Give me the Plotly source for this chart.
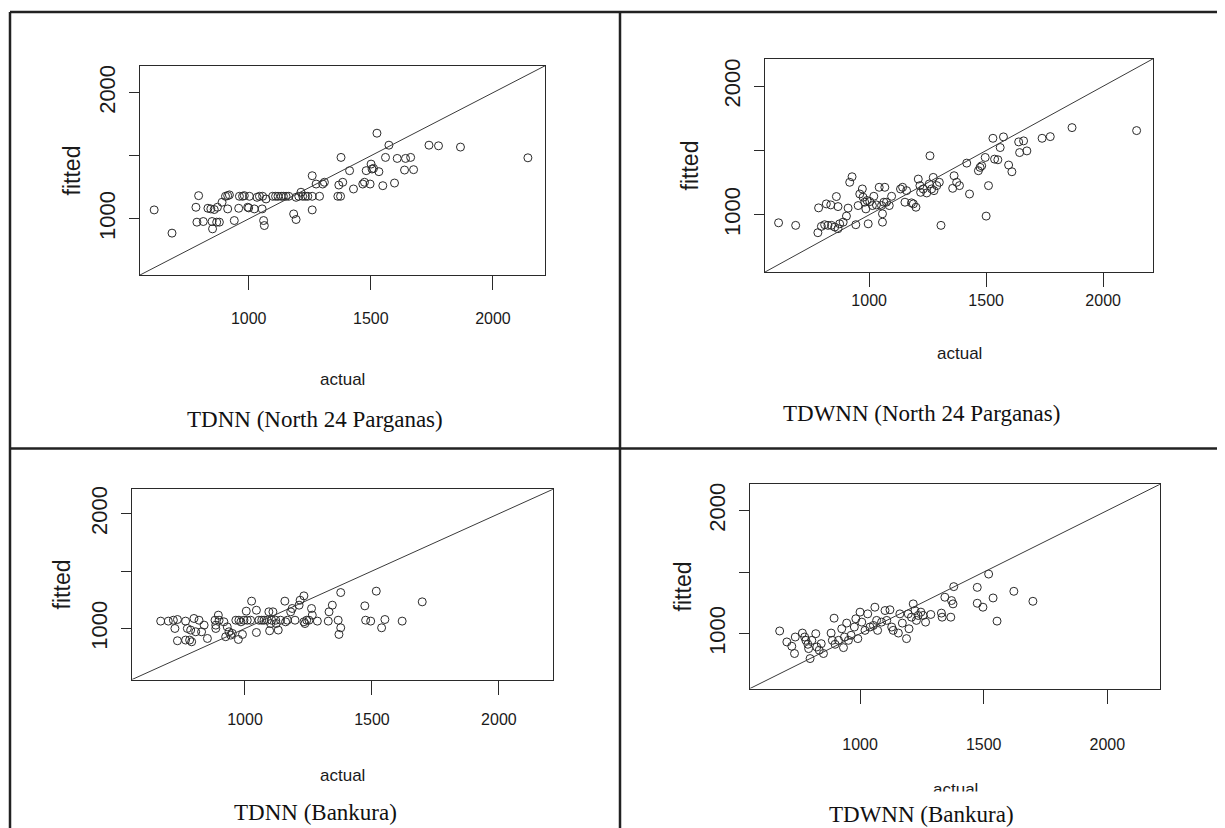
import plotly.graph_objects as go

W, H = 1225, 828
PAGE_OFFSET = 8  # browser body margin
FW, FH = W - PAGE_OFFSET, H - PAGE_OFFSET
AXIS_RANGE = [555, 2213]
TICK_VALUES = [1000, 1500, 2000]
X_TICK_TEXT = ["1000", "1500", "2000"]
Y_TICK_TEXT = ["1000", "", "2000"]
CAPTIONS = ["TDNN (North 24 Parganas)", "TDWNN (North 24 Parganas)",
            "TDNN (Bankura)", "TDWNN (Bankura)"]
X_TITLE = "actual"
Y_TITLE = "fitted"

# ---- TDNN, North 24 Parganas ----
tdnn_n24_actual = [613, 686, 795, 784, 788, 814, 833, 859, 850, 852, 869, 880, 891, 914, 921,
                   914, 941, 959, 975, 982, 996, 1000, 1003, 1023, 1034, 1044, 1057, 1061, 1064,
                   1055, 1071, 1098, 1133, 1142, 1153, 1164, 1184, 1194, 1194, 1214, 1221, 1242,
                   1260, 1260, 1260, 1276, 1290, 1303, 1310, 1365, 1369, 1376, 1385, 1378, 1413,
                   1429, 1467, 1474, 1481, 1497, 1501, 1505, 1511, 1533, 1525, 1549, 1560, 1574,
                   1597, 1608, 1638, 1642, 1663, 1675, 1738, 1777, 1867, 2143,
                   905, 962, 1110, 1120, 845, 872, 1205, 1232]
tdnn_n24_fitted = [1071, 887, 1184, 1092, 974, 979, 1084, 1074, 979, 921, 974, 974, 1132, 1184, 1190,
                   1079, 987, 1084, 1179, 1184, 1092, 1087, 1179, 1079, 1171, 1179, 1179, 987, 947,
                   1079, 1158, 1179, 1179, 1179, 1179, 1179, 1039, 995, 1171, 1211, 1179, 1179,
                   1342, 1179, 1071, 1276, 1179, 1276, 1290, 1179, 1268, 1179, 1290, 1487, 1382,
                   1237, 1276, 1290, 1382, 1276, 1434, 1395, 1400, 1374, 1679, 1263, 1487, 1584,
                   1284, 1479, 1387, 1479, 1487, 1390, 1584, 1579, 1569, 1484,
                   1179, 1179, 1179, 1179, 1079, 1092, 1179, 1179]

# ---- TDWNN, North 24 Parganas ----
tdwnn_n24_actual = [613, 686, 784, 781, 796, 810, 824, 839, 853, 867, 874, 889, 903, 910, 917, 927,
                    943, 953, 960, 971, 974, 981, 986, 991, 996, 1003, 1014, 1020, 1031, 1043, 1053,
                    1057, 1057, 1063, 1067, 1074, 1086, 1096, 1134, 1143, 1153, 1160, 1181, 1189,
                    1200, 1210, 1217, 1220, 1231, 1246, 1257, 1260, 1267, 1274, 1277, 1289, 1300,
                    1307, 1357, 1363, 1374, 1386, 1417, 1429, 1467, 1474, 1481, 1496, 1500, 1510,
                    1529, 1536, 1550, 1560, 1574, 1596, 1610, 1639, 1643, 1660, 1674, 1739, 1774,
                    1867, 2143, 817, 836, 860, 867]
tdwnn_n24_fitted = [938, 918, 1054, 861, 910, 923, 918, 918, 905, 892, 930, 943, 990, 1052, 1253, 1296,
                    923, 1072, 1162, 1201, 1137, 1098, 1046, 1111, 930, 1103, 1072, 1144, 1077, 1214,
                    1072, 943, 1008, 1098, 1214, 1098, 1072, 1144, 1201, 1214, 1098, 1188, 1093, 1085,
                    1059, 1278, 1227, 1175, 1201, 1170, 1240, 1459, 1201, 1291, 1188, 1227, 1253,
                    918, 1206, 1304, 1253, 1227, 1402, 1162, 1343, 1369, 1381, 1446, 990, 1227,
                    1595, 1433, 1428, 1523, 1606, 1387, 1335, 1567, 1484, 1575, 1497, 1595, 1608,
                    1678, 1655, 1085, 1077, 1142, 1064]

# ---- TDNN, Bankura ----
tdnn_bnk_actual = [668, 698, 718, 734, 724, 734, 766, 773, 766, 782, 786, 790, 799, 806, 819, 829, 839,
                   852, 882, 885, 895, 917, 924, 930, 937, 944, 950, 974, 976, 990, 996, 1005, 1009,
                   1022, 1026, 1045, 1045, 1055, 1066, 1075, 1094, 1097, 1105, 1110, 1121, 1123,
                   1131, 1140, 1157, 1167, 1180, 1186, 1197, 1213, 1217, 1232, 1236, 1243, 1252,
                   1262, 1265, 1285, 1328, 1331, 1344, 1367, 1370, 1377, 1377, 1475, 1472, 1495,
                   1517, 1538, 1551, 1619, 1698, 885, 898, 964, 984, 1088, 1101, 1160, 1232]
tdnn_bnk_fitted = [1064, 1064, 1072, 1078, 1000, 893, 1064, 1000, 899, 899, 986, 884, 1087, 971, 1072,
                   971, 1029, 913, 1072, 1000, 1116, 1058, 928, 1014, 971, 942, 957, 904, 1072, 948,
                   1072, 1151, 1072, 1072, 1238, 1159, 965, 1072, 1072, 1072, 1145, 980, 1072, 1145,
                   1072, 1043, 986, 1072, 1238, 1072, 1145, 1174, 1072, 1203, 1246, 1284, 1043,
                   1072, 1072, 1174, 1116, 1064, 1064, 1145, 1203, 1072, 948, 1313, 1006, 1072,
                   1197, 1064, 1325, 1006, 1078, 1064, 1232, 1029, 1072, 1072, 1058, 1072, 1043,
                   1058, 1058]

# ---- TDWNN, Bankura ----
tdwnn_bnk_actual = [675, 704, 724, 735, 738, 767, 776, 781, 789, 792, 798, 805, 821, 825, 835, 843, 852,
                    883, 888, 895, 899, 913, 926, 933, 937, 946, 953, 964, 977, 983, 991, 1000, 1007,
                    1020, 1031, 1040, 1054, 1060, 1067, 1071, 1087, 1101, 1108, 1121, 1128, 1134,
                    1155, 1161, 1171, 1188, 1195, 1198, 1208, 1215, 1222, 1228, 1235, 1246, 1255,
                    1265, 1286, 1329, 1332, 1343, 1367, 1370, 1376, 1379, 1474, 1474, 1497, 1520,
                    1538, 1554, 1622, 1699]
tdwnn_bnk_fitted = [1022, 933, 898, 839, 973, 1005, 973, 946, 914, 879, 798, 946, 1000, 892, 866, 919,
                    839, 1005, 946, 1126, 914, 946, 1040, 887, 973, 1086, 946, 987, 1054, 1121, 960,
                    1175, 1094, 1027, 1161, 1054, 1067, 1215, 1108, 1027, 1094, 1188, 1108, 1194,
                    1054, 1027, 1005, 1161, 1086, 960, 1161, 1040, 1134, 1242, 1188, 1108, 1148,
                    1175, 1148, 1094, 1156, 1167, 1134, 1296, 1134, 1269, 1242, 1382, 1376, 1247,
                    1215, 1484, 1290, 1102, 1344, 1263]

SERIES = [(tdnn_n24_actual, tdnn_n24_fitted), (tdwnn_n24_actual, tdwnn_n24_fitted),
          (tdnn_bnk_actual, tdnn_bnk_fitted), (tdwnn_bnk_actual, tdwnn_bnk_fitted)]

# ---- layout (window-pixel geometry of each panel) ----
PLOT_BOX = [(140, 545, 63, 273), (765, 1153, 56, 270), (132, 553, 488, 679), (750, 1160, 483, 688)]
Y_TITLE_X = [72, 690, 62, 683]
X_TITLE_Y = [378, 352, 775, 789]
X_TICK_STANDOFF = [15, 0, 11, 27]
CAPTION_POS = [(315, 418), (921, 412), (315, 812), (921, 814)]

SANS = "Liberation Sans, Arial, sans-serif"
SERIF = "Liberation Serif, Times New Roman, serif"
INK = "#2a2a2a"
TXT = "#1a1a1a"


def px(x):
    return (x - PAGE_OFFSET) / FW


def py(y):
    return 1 - (y - PAGE_OFFSET) / FH


fig = go.Figure()
layout = dict(width=FW, height=FH, margin=dict(l=0, r=0, t=0, b=0),
              paper_bgcolor="white", plot_bgcolor="white", showlegend=False)
annotations = []

for i, ((act, fit), (x0, x1, y0, y1)) in enumerate(zip(SERIES, PLOT_BOX), start=1):
    xa = "x" if i == 1 else f"x{i}"
    ya = "y" if i == 1 else f"y{i}"
    fig.add_trace(go.Scatter(x=act, y=fit, mode="markers", xaxis=xa, yaxis=ya,
                             marker=dict(symbol="circle-open", size=8,
                                         line=dict(width=1, color=INK), color=INK),
                             hoverinfo="skip"))
    # y = x reference line across the full axis range
    fig.add_trace(go.Scatter(x=AXIS_RANGE, y=AXIS_RANGE, mode="lines", xaxis=xa, yaxis=ya,
                             line=dict(color="#3a3a3a", width=1), hoverinfo="skip"))
    xkey = "xaxis" if i == 1 else f"xaxis{i}"
    ykey = "yaxis" if i == 1 else f"yaxis{i}"
    layout[xkey] = dict(domain=[px(x0), px(x1)], range=AXIS_RANGE, anchor=ya,
                        showgrid=False, zeroline=False, showline=True, mirror=True,
                        linecolor=INK, linewidth=1, ticks="outside", ticklen=14,
                        tickcolor=INK, tickwidth=1, tickvals=TICK_VALUES,
                        ticktext=X_TICK_TEXT, ticklabelstandoff=X_TICK_STANDOFF[i - 1],
                        tickfont=dict(family=SANS, size=16, color=TXT))
    layout[ykey] = dict(domain=[py(y1), py(y0)], range=AXIS_RANGE, anchor=xa,
                        showgrid=False, zeroline=False, showline=True, mirror=True,
                        linecolor=INK, linewidth=1, ticks="outside", ticklen=10,
                        tickcolor=INK, tickwidth=1, tickvals=TICK_VALUES,
                        ticktext=Y_TICK_TEXT, tickangle=-90, ticklabelstandoff=5,
                        tickfont=dict(family=SANS, size=22, color=TXT))
    annotations.append(dict(text=Y_TITLE, x=px(Y_TITLE_X[i - 1]), y=py((y0 + y1) / 2),
                            xref="paper", yref="paper", showarrow=False, textangle=-90,
                            xanchor="center", yanchor="middle",
                            font=dict(family=SANS, size=23, color=TXT)))
    annotations.append(dict(text=X_TITLE, x=px((x0 + x1) / 2), y=py(X_TITLE_Y[i - 1]),
                            xref="paper", yref="paper", showarrow=False,
                            xanchor="center", yanchor="middle",
                            font=dict(family=SANS, size=17, color=TXT)))
    if i == 4:
        # the lower part of this axis title is hidden in the original
        annotations.append(dict(text=" ", x=px((x0 + x1) / 2), y=py(797), xref="paper",
                                yref="paper", showarrow=False, xanchor="center",
                                yanchor="middle", width=80, height=10, bgcolor="white",
                                borderpad=0, font=dict(size=6)))
    cx, cy = CAPTION_POS[i - 1]
    annotations.append(dict(text=CAPTIONS[i - 1], x=px(cx), y=py(cy), xref="paper", yref="paper",
                            showarrow=False, xanchor="center", yanchor="middle",
                            font=dict(family=SERIF, size=23, color="#111111")))

# table borders
BORDER = dict(color="#222222", width=2.5)
shapes = []
for (a, b, c, d) in [(10, 9, 1222, 9), (10, 447, 1222, 447), (10, 9, 10, 830),
                     (620, 9, 620, 830), (1222, 9, 1222, 830)]:
    shapes.append(dict(type="line", xref="paper", yref="paper", x0=px(a), y0=py(b),
                       x1=px(c), y1=py(d), line=BORDER, layer="above"))

layout["annotations"] = annotations
layout["shapes"] = shapes
fig.update_layout(**layout)
fig.write_html("out.html")
